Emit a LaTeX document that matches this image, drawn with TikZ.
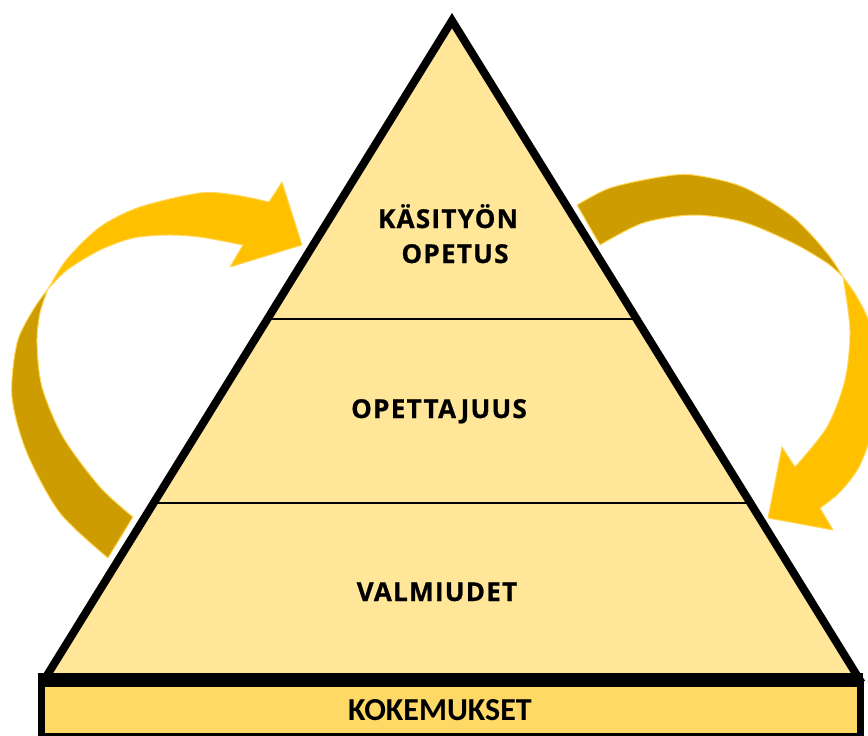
\documentclass[tikz,border=0pt]{standalone}
\usepackage{fontspec}
\newfontfamily\layerfont[LetterSpace=5, BoldFeatures={FakeBold=0.8}]{Open Sans}
\newfontfamily\barfont{Carlito}
\definecolor{pyrfill}{HTML}{FFE699}
\definecolor{barfill}{HTML}{FFD966}
\definecolor{arrbright}{HTML}{FFC000}
\definecolor{arrdark}{HTML}{CC9C00}
\definecolor{arredge}{HTML}{FFD75A}
\tikzset{
  layertext/.style={inner sep=0pt, anchor=base, font=\layerfont\bfseries\fontsize{26}{30}\selectfont},
  bartext/.style={inner sep=0pt, anchor=base, font=\barfont\bfseries\fontsize{32}{36}\selectfont},
  brightpart/.style={fill=arrbright, draw=arredge, line width=1pt, line join=round},
  darkpart/.style={fill=arrdark, draw=arredge, line width=1pt, line join=round},
  divider/.style={draw=black, line width=2.8pt},
}
\begin{document}
\begin{tikzpicture}[x=1pt,y=-1pt]
\useasboundingbox (0,0) rectangle (868,736);
% ---------- left curved arrow ----------
\path[darkpart] plot[smooth] coordinates {(48,289) (33,310) (17,343) (12,397) (27,453) (60,513) (108,558)}
  -- plot[smooth] coordinates {(133,517) (100,487) (63,437) (42,387) (37,343) (40,313) (48,289)} -- cycle;
\path[brightpart] plot[smooth] coordinates {(48,289) (67,259) (100,227) (140,207) (200,193) (235,195) (269,202)}
  -- (282,182) -- (302,245) -- (230,267) --
  plot[smooth] coordinates {(243,245) (200,237) (167,235) (133,238) (100,250) (67,270) (48,289)} -- cycle;
% ---------- right curved arrow ----------
\path[darkpart] plot[smooth] coordinates {(577,205) (610,188) (660,177) (693,175) (743,187) (793,217) (827,253) (843,277)}
  -- plot[smooth] coordinates {(843,277) (827,263) (793,243) (743,222) (693,215) (643,223) (600,245)} -- cycle;
\path[brightpart] plot[smooth] coordinates {(843,277) (857,297) (870,325) (878,370) (875,420) (860,465) (840,492) (820,508)}
  -- (833,530) -- (768,518) -- (782,447) --
  plot[smooth] coordinates {(795,467) (827,427) (845,380) (850,330) (843,277)} -- cycle;
% ---------- pyramid ----------
\coordinate (apex) at (452,20.6);
\coordinate (bl) at (46,677);
\coordinate (br) at (858,677);
\fill[pyrfill] (apex) -- (bl) -- (br) -- cycle;
\coordinate (d1l) at (267,319);
\coordinate (d1r) at (637,319);
\coordinate (d2l) at (153,503);
\coordinate (d2r) at (751,503);
\draw[divider] (d1l) -- (d1r);
\draw[divider] (d2l) -- (d2r);
\draw[line width=8pt, line join=miter] (apex) -- (bl) -- (br) -- cycle;
% ---------- base bar ----------
\fill[black] (38,673) rectangle (863,687);
\draw[fill=barfill, line width=7pt] (41.5,683.5) rectangle (860,736.5);
% ---------- texts ----------
\node[layertext] (t1a) at (448,228) {KÄSITYÖN};
\node[layertext] (t1b) at (455,263) {OPETUS};
\node[layertext] (t2) at (439,418) {OPETTAJUUS};
\node[layertext] (t3) at (437,601) {VALMIUDET};
\node[bartext] (t4) at (440,720) {KOKEMUKSET};
\end{tikzpicture}
\end{document}
